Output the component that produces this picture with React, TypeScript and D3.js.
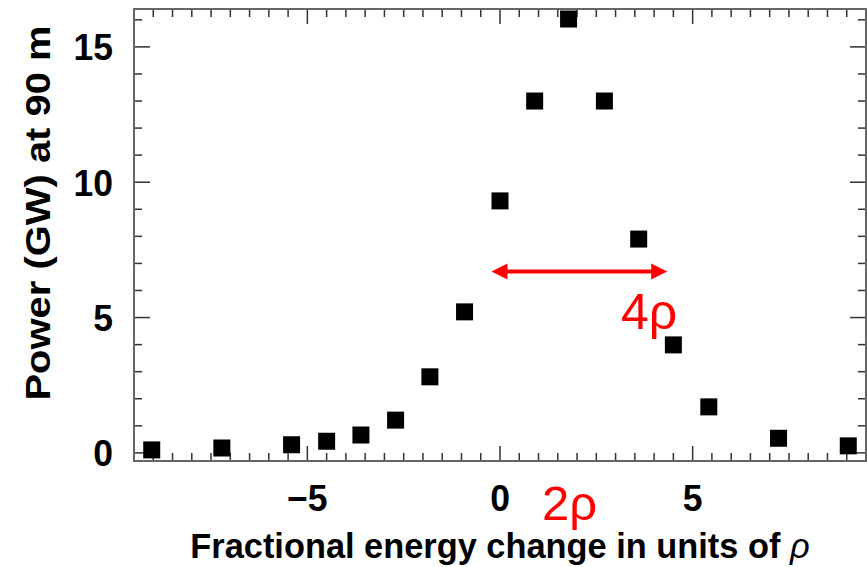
import React, { useEffect, useRef } from 'react';
import * as d3 from 'd3';

// energy offset (units of rho) and power (GW)
const energyShift = [-9.04, -7.22, -5.41, -4.5, -3.61, -2.71, -1.82, -0.92, 0, 0.9, 1.78, 2.71, 3.6, 4.5, 5.42, 7.23, 9.04];
const powerGW = [0.11, 0.18, 0.3, 0.43, 0.66, 1.21, 2.81, 5.21, 9.31, 13.0, 16.03, 13.0, 7.9, 3.99, 1.7, 0.54, 0.26];

const xTickLabels = [-5, 0, 5];
const yTickLabels = [0, 5, 10, 15];

// width marker (data coords)
const arrowX = [-0.22, 4.34];
const arrowY = 6.7;

const W = 867;
const H = 567;
const FONT = "'Liberation Sans', Arial, Helvetica, sans-serif";

export default function App() {
  const svgRef = useRef<SVGSVGElement | null>(null);

  useEffect(() => {
    const svg = d3.select(svgRef.current);
    svg.selectAll('*').remove();

    const left = 134, right = 866, top = 9, bottom = 461;

    const x = d3.scaleLinear().domain([-9.5, 9.5]).range([left, right]);
    const y = d3.scaleLinear().domain([-0.3, 16.4]).range([bottom, top]);

    const tickColor = '#333';

    // x ticks (top and bottom, pointing inward)
    const xt = d3.range(-9.5, 9.51, 0.5).filter(v => v > -9.5 && v < 9.5);
    xt.forEach(v => {
      const major = Math.abs(v % 5) < 1e-6;
      const len = major ? 15 : 8;
      svg.append('line')
        .attr('x1', x(v)).attr('x2', x(v))
        .attr('y1', bottom).attr('y2', bottom - len)
        .attr('stroke', tickColor).attr('stroke-width', 1.5);
      svg.append('line')
        .attr('x1', x(v)).attr('x2', x(v))
        .attr('y1', top).attr('y2', top + len)
        .attr('stroke', tickColor).attr('stroke-width', 1.5);
    });

    // y ticks (left and right)
    d3.range(0, 17, 1).forEach(v => {
      const major = v % 5 === 0;
      const len = major ? 16 : 8;
      svg.append('line')
        .attr('x1', left).attr('x2', left + len)
        .attr('y1', y(v)).attr('y2', y(v))
        .attr('stroke', tickColor).attr('stroke-width', 1.5);
      svg.append('line')
        .attr('x1', right).attr('x2', right - len)
        .attr('y1', y(v)).attr('y2', y(v))
        .attr('stroke', tickColor).attr('stroke-width', 1.5);
    });

    // frame
    svg.append('rect')
      .attr('x', left).attr('y', top)
      .attr('width', right - left).attr('height', bottom - top)
      .attr('fill', 'none')
      .attr('stroke', '#666')
      .attr('stroke-width', 2);

    // tick labels
    svg.selectAll('.xlab')
      .data(xTickLabels)
      .enter()
      .append('text')
      .attr('transform', d => `translate(${x(d)},511) scale(0.96,1)`)
      .attr('text-anchor', 'middle')
      .attr('font-family', FONT)
      .attr('font-weight', 'bold')
      .attr('font-size', 37)
      .attr('fill', '#000')
      .text(d => (d < 0 ? '\u2212' + Math.abs(d) : String(d)));

    svg.selectAll('.ylab')
      .data(yTickLabels)
      .enter()
      .append('text')
      .attr('transform', d => `translate(113,${y(d)}) scale(0.96,1)`)
      .attr('dy', '0.36em')
      .attr('text-anchor', 'end')
      .attr('font-family', FONT)
      .attr('font-weight', 'bold')
      .attr('font-size', 37)
      .attr('fill', '#000')
      .text(d => d);

    // axis titles (source image is slightly stretched vertically)
    const xt2 = svg.append('text')
      .attr('transform', `translate(${(left + right) / 2},558) scale(0.955,1)`)
      .attr('text-anchor', 'middle')
      .attr('font-family', FONT)
      .attr('font-weight', 'bold')
      .attr('font-size', 36)
      .attr('fill', '#000');
    xt2.append('tspan').text('Fractional energy change in units of ');
    xt2.append('tspan').attr('font-style', 'italic').attr('font-weight', 'normal').text('\u03C1');

    svg.append('text')
      .attr('transform', `translate(50, 213) rotate(-90) scale(1.11,1)`)
      .attr('text-anchor', 'middle')
      .attr('font-family', FONT)
      .attr('font-weight', 'bold')
      .attr('font-size', 36)
      .attr('fill', '#000')
      .text('Power (GW) at 90 m');

    // data squares
    const size = 17;
    svg.selectAll('.pt')
      .data(energyShift)
      .enter()
      .append('rect')
      .attr('x', (d) => x(d) - size / 2)
      .attr('y', (_, i) => y(powerGW[i]) - size / 2)
      .attr('width', size)
      .attr('height', size)
      .attr('fill', '#000');

    // double-headed arrow
    const red = '#ff0000';
    const ax0 = x(arrowX[0]), ax1 = x(arrowX[1]), ay = y(arrowY);
    const headL = 16, headW = 8;
    svg.append('line')
      .attr('x1', ax0 + headL - 2).attr('x2', ax1 - headL + 2)
      .attr('y1', ay).attr('y2', ay)
      .attr('stroke', red).attr('stroke-width', 4);
    svg.append('path')
      .attr('d', `M${ax0},${ay} L${ax0 + headL},${ay - headW} L${ax0 + headL},${ay + headW} Z`)
      .attr('fill', red);
    svg.append('path')
      .attr('d', `M${ax1},${ay} L${ax1 - headL},${ay - headW} L${ax1 - headL},${ay + headW} Z`)
      .attr('fill', red);

    svg.append('text')
      .attr('x', 621)
      .attr('y', 329)
      .attr('font-family', FONT)
      .attr('font-size', 50)
      .attr('fill', red)
      .text('4\u03C1');

    svg.append('text')
      .attr('x', 542)
      .attr('y', 520)
      .attr('font-family', FONT)
      .attr('font-size', 49)
      .attr('fill', red)
      .text('2\u03C1');
  }, []);

  return (
    <svg
      ref={svgRef}
      width={W}
      height={H}
      style={{ position: 'absolute', left: 0, top: 0, background: '#fff' }}
    />
  );
}
